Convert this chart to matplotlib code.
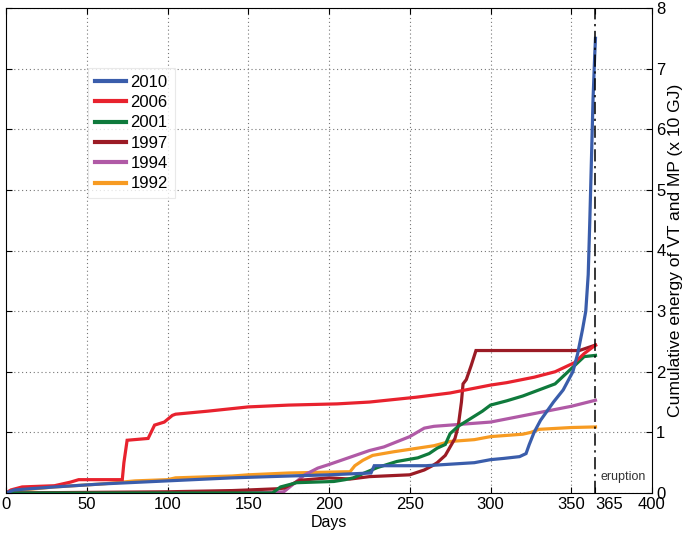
import matplotlib
matplotlib.use("Agg")
import matplotlib.pyplot as plt

plt.rcParams['font.family'] = ['Liberation Sans', 'DejaVu Sans']

# ---- data ----
d2010 = [0, 5, 30, 60, 100, 140, 175, 200, 226, 228, 260, 290, 300, 308, 318, 322, 324, 327, 331, 339, 345, 351, 354, 357, 359, 360.5, 361.5, 362.5, 363.5, 364.5, 365]
v2010 = [0, 0.05, 0.1, 0.15, 0.2, 0.25, 0.28, 0.3, 0.33, 0.45, 0.45, 0.5, 0.55, 0.57, 0.6, 0.65, 0.8, 1.0, 1.2, 1.5, 1.7, 2.0, 2.3, 2.7, 3.0, 3.6, 4.5, 5.5, 6.5, 7.2, 7.5]

d2006 = [0, 3, 10, 30, 40, 45, 72, 73, 75, 88, 92, 98, 103, 105, 125, 150, 175, 205, 225, 254, 275, 300, 310, 327, 340, 348, 352, 358, 365]
v2006 = [0, 0.05, 0.1, 0.12, 0.18, 0.22, 0.22, 0.5, 0.87, 0.9, 1.12, 1.17, 1.28, 1.3, 1.35, 1.42, 1.45, 1.47, 1.5, 1.58, 1.65, 1.78, 1.82, 1.91, 2.0, 2.1, 2.15, 2.3, 2.44]

d2001 = [0, 165, 170, 180, 203, 210, 215, 221, 230, 242, 255, 262, 267, 272, 275, 280, 286, 295, 300, 310, 320, 327, 340, 348, 354, 358, 365]
v2001 = [0, 0.0, 0.1, 0.17, 0.19, 0.22, 0.25, 0.32, 0.42, 0.52, 0.58, 0.65, 0.74, 0.8, 0.98, 1.1, 1.2, 1.35, 1.45, 1.52, 1.6, 1.67, 1.8, 2.0, 2.15, 2.25, 2.27]

d1997 = [0, 100, 140, 150, 168, 172, 182, 200, 213, 225, 250, 259, 264, 267, 272, 275, 278, 280, 282, 283, 285, 288, 291, 355, 365]
v1997 = [0, 0.02, 0.04, 0.05, 0.07, 0.08, 0.21, 0.25, 0.23, 0.27, 0.3, 0.38, 0.45, 0.5, 0.62, 0.76, 0.9, 1.1, 1.5, 1.8, 1.87, 2.1, 2.35, 2.35, 2.44]

d1994 = [0, 100, 165, 172, 185, 193, 200, 225, 234, 250, 259, 265, 275, 300, 327, 350, 365]
v1994 = [0, 0.0, 0.01, 0.02, 0.3, 0.41, 0.47, 0.7, 0.76, 0.93, 1.07, 1.1, 1.12, 1.17, 1.31, 1.43, 1.53]

d1992 = [0, 10, 30, 60, 80, 100, 105, 140, 150, 175, 210, 213, 216, 221, 227, 240, 250, 265, 275, 290, 300, 320, 325, 330, 350, 365]
v1992 = [0, 0.05, 0.1, 0.15, 0.2, 0.22, 0.25, 0.28, 0.3, 0.33, 0.35, 0.35, 0.45, 0.54, 0.62, 0.68, 0.72, 0.78, 0.85, 0.88, 0.93, 0.97, 1.0, 1.05, 1.08, 1.09]

labels = ['2010', '2006', '2001', '1997', '1994', '1992']
colors = ['#3a5dab', '#e8222e', '#0f7a3c', '#9b1b25', '#b05aa6', '#f79b22']
xticks = [0, 50, 100, 150, 200, 250, 300, 350, 365, 400]
yticks = [0, 1, 2, 3, 4, 5, 6, 7, 8]

series = [(d2010, v2010), (d2006, v2006), (d2001, v2001),
          (d1997, v1997), (d1994, v1994), (d1992, v1992)]

fig = plt.figure(figsize=(6.85, 5.33), dpi=100)
ax = fig.add_axes([6/685, 40/533, 646/685, 485/533])

# draw in reverse so 2010 is on top
for (d, v), lab, c in reversed(list(zip(series, labels, colors))):
    ax.plot(d, v, color=c, lw=2.3, label=lab, solid_joinstyle='miter')

ax.axvline(365, color='black', lw=1.1, ls=(0, (8, 3, 1.5, 3)))
ax.text(368, 0.26, 'eruption', fontsize=9, color='#333333', va='center', ha='left')

ax.set_xlim(0, 400)
ax.set_ylim(0, 8)
ax.set_xticks(xticks)
ax.set_yticks(yticks)
ax.yaxis.tick_right()
ax.yaxis.set_label_position('right')
ax.tick_params(direction='in', labelsize=12, length=4, right=True, left=True,
               top=True, bottom=True, labelleft=False, labelright=True, pad=3)
for t, lbl in zip(xticks, ax.get_xticklabels()):
    if t == 365:
        lbl.set_horizontalalignment('left')
ax.set_xlabel('Days', fontsize=11.5, labelpad=2)
ax.set_ylabel('Cumulative energy of VT and MP (x 10 GJ)', fontsize=12.6, labelpad=2)

ax.grid(True, ls=(0, (1, 2.5)), color='#777777', lw=0.8)
for t, gl in zip(xticks, ax.xaxis.get_gridlines()):
    if t in (0, 365, 400):
        gl.set_visible(False)

handles, labs = ax.get_legend_handles_labels()
handles, labs = handles[::-1], labs[::-1]
leg = ax.legend(handles, labs, loc='upper left', bbox_to_anchor=(82/646, 1 - 60/485),
                fontsize=12, frameon=True, fancybox=False, edgecolor='#e4e4e4',
                handlelength=1.9, handletextpad=0.25, labelspacing=0.32,
                borderpad=0.4, borderaxespad=0.0)
leg.get_frame().set_linewidth(0.8)
for l in leg.get_lines():
    l.set_linewidth(3)

fig.savefig('out.png', dpi=100)
